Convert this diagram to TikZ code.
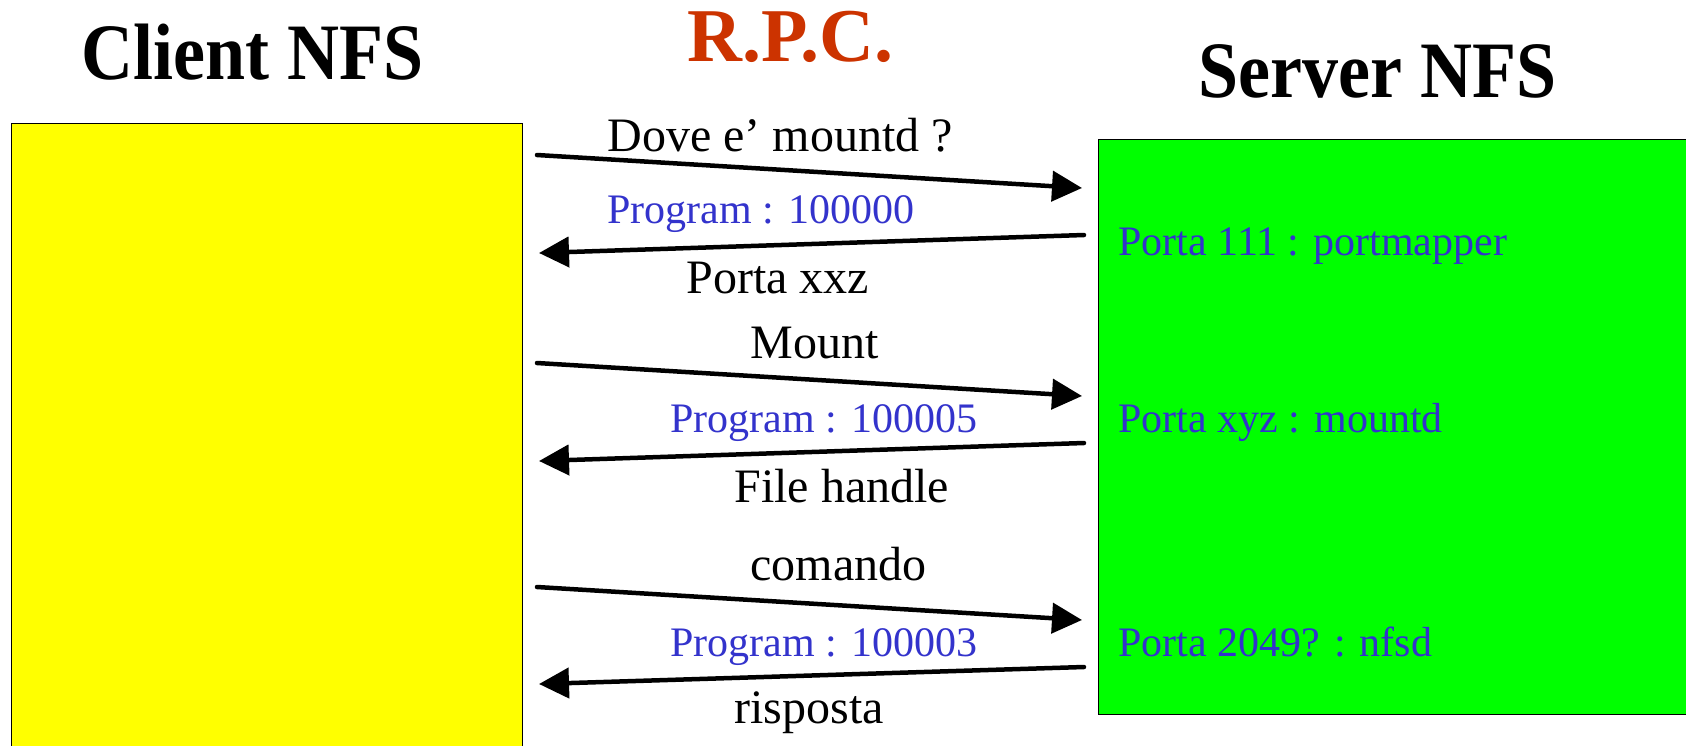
\documentclass[tikz,border=0pt]{standalone}
\usepackage{fontspec}
\setmainfont{Liberation Serif}
\usetikzlibrary{arrows.meta}
\definecolor{rpcred}{HTML}{CC3300}
\definecolor{portblue}{HTML}{3333CC}
\definecolor{clientfill}{RGB}{255,255,0}
\definecolor{serverfill}{RGB}{0,255,0}
\tikzset{
  hostbox/.style={draw=black, line width=0.7pt, inner sep=0pt, anchor=north west},
  title/.style={inner sep=0pt, anchor=base west, font=\bfseries\fontsize{40}{44}\selectfont, xscale=0.9},
  msg/.style={inner sep=0pt, anchor=base west, font=\fontsize{24}{28}\selectfont},
  prog/.style={inner sep=0pt, anchor=base west, text=portblue, font=\fontsize{21}{25}\selectfont},
  call/.style={line width=2.25pt, line cap=round, -{Triangle[length=15pt,width=15pt]}}
}
\begin{document}
\begin{tikzpicture}[x=0.5pt, y=-0.5pt]
\clip (0,0) rectangle (1686,745);
\fill[white] (0,0) rectangle (1686,745);

% the two hosts
\node[hostbox, fill=clientfill, minimum width=255.5pt, minimum height=330pt] (client) at (11,123) {};
\node[hostbox, fill=serverfill, minimum width=301pt, minimum height=287.5pt] (server) at (1098,139) {};

% headings
\node[title] (tclient) at (81,79.5) {Client NFS};
\node[inner sep=0pt, anchor=base west, text=rpcred, font=\bfseries\fontsize{38}{42}\selectfont] (trpc) at (687,61.5) {R.P.C.};
\node[title] (tserver) at (1198,97.5) {Server NFS};

% services listening on the server
\node[prog] (pmap) at (1118,255.5) {Porta 111 : portmapper};
\node[prog] (pmnt) at (1118,432) {Porta xyz : mountd};
\node[prog] (pnfs) at (1118,656) {Porta 2049? : nfsd};

% end points of the exchanges
\coordinate (c1) at (537,155);  \coordinate (s1) at (1082,188);
\coordinate (s2) at (1084,235); \coordinate (c2) at (539,253);
\coordinate (c3) at (537,363);  \coordinate (s3) at (1082,396);
\coordinate (s4) at (1084,443); \coordinate (c4) at (539,461);
\coordinate (c5) at (537,587);  \coordinate (s5) at (1082,620);
\coordinate (s6) at (1084,667); \coordinate (c6) at (539,684);

\draw[call] (c1) -- (s1);
\draw[call] (s2) -- (c2);
\draw[call] (c3) -- (s3);
\draw[call] (s4) -- (c4);
\draw[call] (c5) -- (s5);
\draw[call] (s6) -- (c6);

% message labels
\node[msg]  (m1) at (607,151.5) {Dove e’ mountd ?};
\node[prog] (p1) at (607,223.5) {Program : 100000};
\node[msg]  (m2) at (686,293.5) {Porta xxz};
\node[msg]  (m3) at (750,358) {Mount};
\node[prog] (p2) at (670,432) {Program : 100005};
\node[msg]  (m4) at (734,502) {File handle};
\node[msg]  (m5) at (750,580.5) {comando};
\node[prog] (p3) at (670,656.5) {Program : 100003};
\node[msg]  (m6) at (734,723.5) {risposta};
\end{tikzpicture}
\end{document}
